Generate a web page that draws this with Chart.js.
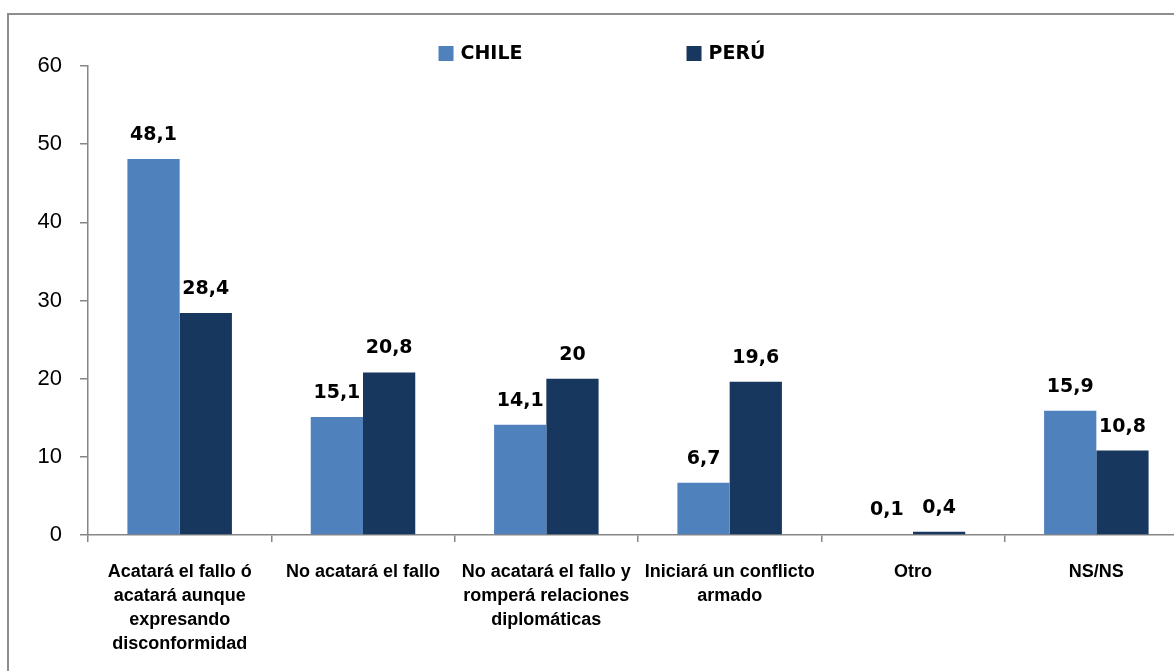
<!DOCTYPE html>
<html>
<head>
<meta charset="utf-8">
<script src="https://cdn.jsdelivr.net/npm/chart.js@4.4.1/dist/chart.umd.min.js"></script>
<style>
  html, body { margin: 0; padding: 0; background: #fff; overflow: hidden; }
  #marco { position: absolute; left: 7px; top: 13px; width: 1300px; height: 800px;
           border-left: 2px solid #8e8e8e; border-top: 2px solid #8e8e8e; }
  #myChart { position: absolute; left: 0; top: 0; }
</style>
</head>
<body>
<div id="marco"></div>
<canvas id="myChart" width="1200" height="671"></canvas>
<script>
let categorias = [
    ['Acatará el fallo ó', 'acatará aunque', 'expresando', 'disconformidad'],
    ['No acatará el fallo'],
    ['No acatará el fallo y', 'romperá relaciones', 'diplomáticas'],
    ['Iniciará un conflicto', 'armado'],
    ['Otro'],
    ['NS/NS']
];
let series = ['CHILE', 'PERÚ'];
let valoresChile = [48.1, 15.1, 14.1, 6.7, 0.1, 15.9];
let valoresPeru = [28.4, 20.8, 20, 19.6, 0.4, 10.8];
let colores = ['#4F81BD', '#17375E'];
let ticksY = [0, 10, 20, 30, 40, 50, 60];

const ctx = document.getElementById('myChart');

// etiquetas de valor sobre cada barra
const etiquetas = {
    id: 'etiquetas',
    afterDatasetsDraw(chart) {
        let c = chart.ctx;
        c.save();
        c.font = 'bold 19px "DejaVu Sans"';
        c.fillStyle = '#000';
        c.textAlign = 'center';
        c.textBaseline = 'alphabetic';
        chart.data.datasets.forEach((ds, i) => {
            chart.getDatasetMeta(i).data.forEach((bar, j) => {
                let txt = String(ds.data[j]).replace('.', ',');
                c.fillText(txt, bar.x, bar.y - 19);
            });
        });
        c.restore();
    }
};

// leyenda arriba, cuadrado + texto
const leyenda = {
    id: 'leyenda',
    afterDraw(chart) {
        let c = chart.ctx;
        c.save();
        c.font = 'bold 19px "DejaVu Sans"';
        c.textBaseline = 'middle';
        c.textAlign = 'left';
        let caja = 15, sep = 7, hueco = 164;
        let anchos = chart.data.datasets.map(d => caja + sep + c.measureText(d.label).width);
        let total = anchos.reduce((a, b) => a + b, 0) + hueco * (anchos.length - 1);
        let x = 602 - total / 2;
        let y = 53.5;
        chart.data.datasets.forEach((d, i) => {
            c.fillStyle = d.backgroundColor;
            c.fillRect(x, y - caja / 2, caja, caja);
            c.fillStyle = '#000';
            c.fillText(d.label, x + caja + sep, y + 1);
            x += anchos[i] + hueco;
        });
        c.restore();
    }
};

new Chart(ctx, {
    type: 'bar',
    data: {
        labels: categorias,
        datasets: [{
            label: series[0],
            data: valoresChile,
            backgroundColor: colores[0],
            borderWidth: 0,
        }, {
            label: series[1],
            data: valoresPeru,
            backgroundColor: colores[1],
            borderWidth: 0,
        }]
    },
    options: {
        responsive: false,
        animation: false,
        layout: { padding: { top: 66, right: 12, left: 0, bottom: 0 } },
        plugins: {
            legend: { display: false },
            tooltip: { enabled: false }
        },
        datasets: {
            bar: { categoryPercentage: 0.57, barPercentage: 1.0 }
        },
        scales: {
            x: {
                grid: { display: true, drawOnChartArea: false, drawTicks: true, tickLength: 7, color: '#868686', lineWidth: 1.5, offset: true },
                border: { display: true, color: '#868686', width: 1.5 },
                ticks: {
                    autoSkip: false,
                    maxRotation: 0,
                    minRotation: 0,
                    padding: 18,
                    color: '#000',
                    font: { family: '"Liberation Sans"', size: 18, weight: 'bold', lineHeight: 1.33 }
                },
                afterFit(scale) { scale.height = 671 - 535; }
            },
            y: {
                min: ticksY[0],
                max: ticksY[ticksY.length - 1],
                afterBuildTicks(scale) { scale.ticks = ticksY.map(v => ({ value: v })); },
                grid: { display: true, drawOnChartArea: false, drawTicks: true, tickLength: 8, color: '#868686', lineWidth: 1.5 },
                border: { display: true, color: '#868686', width: 1.5 },
                ticks: {
                    padding: 18,
                    color: '#000',
                    font: { family: '"Liberation Sans"', size: 22 }
                },
                afterFit(scale) { scale.width = 88; }
            }
        }
    },
    plugins: [etiquetas, leyenda]
});
</script>
</body>
</html>
